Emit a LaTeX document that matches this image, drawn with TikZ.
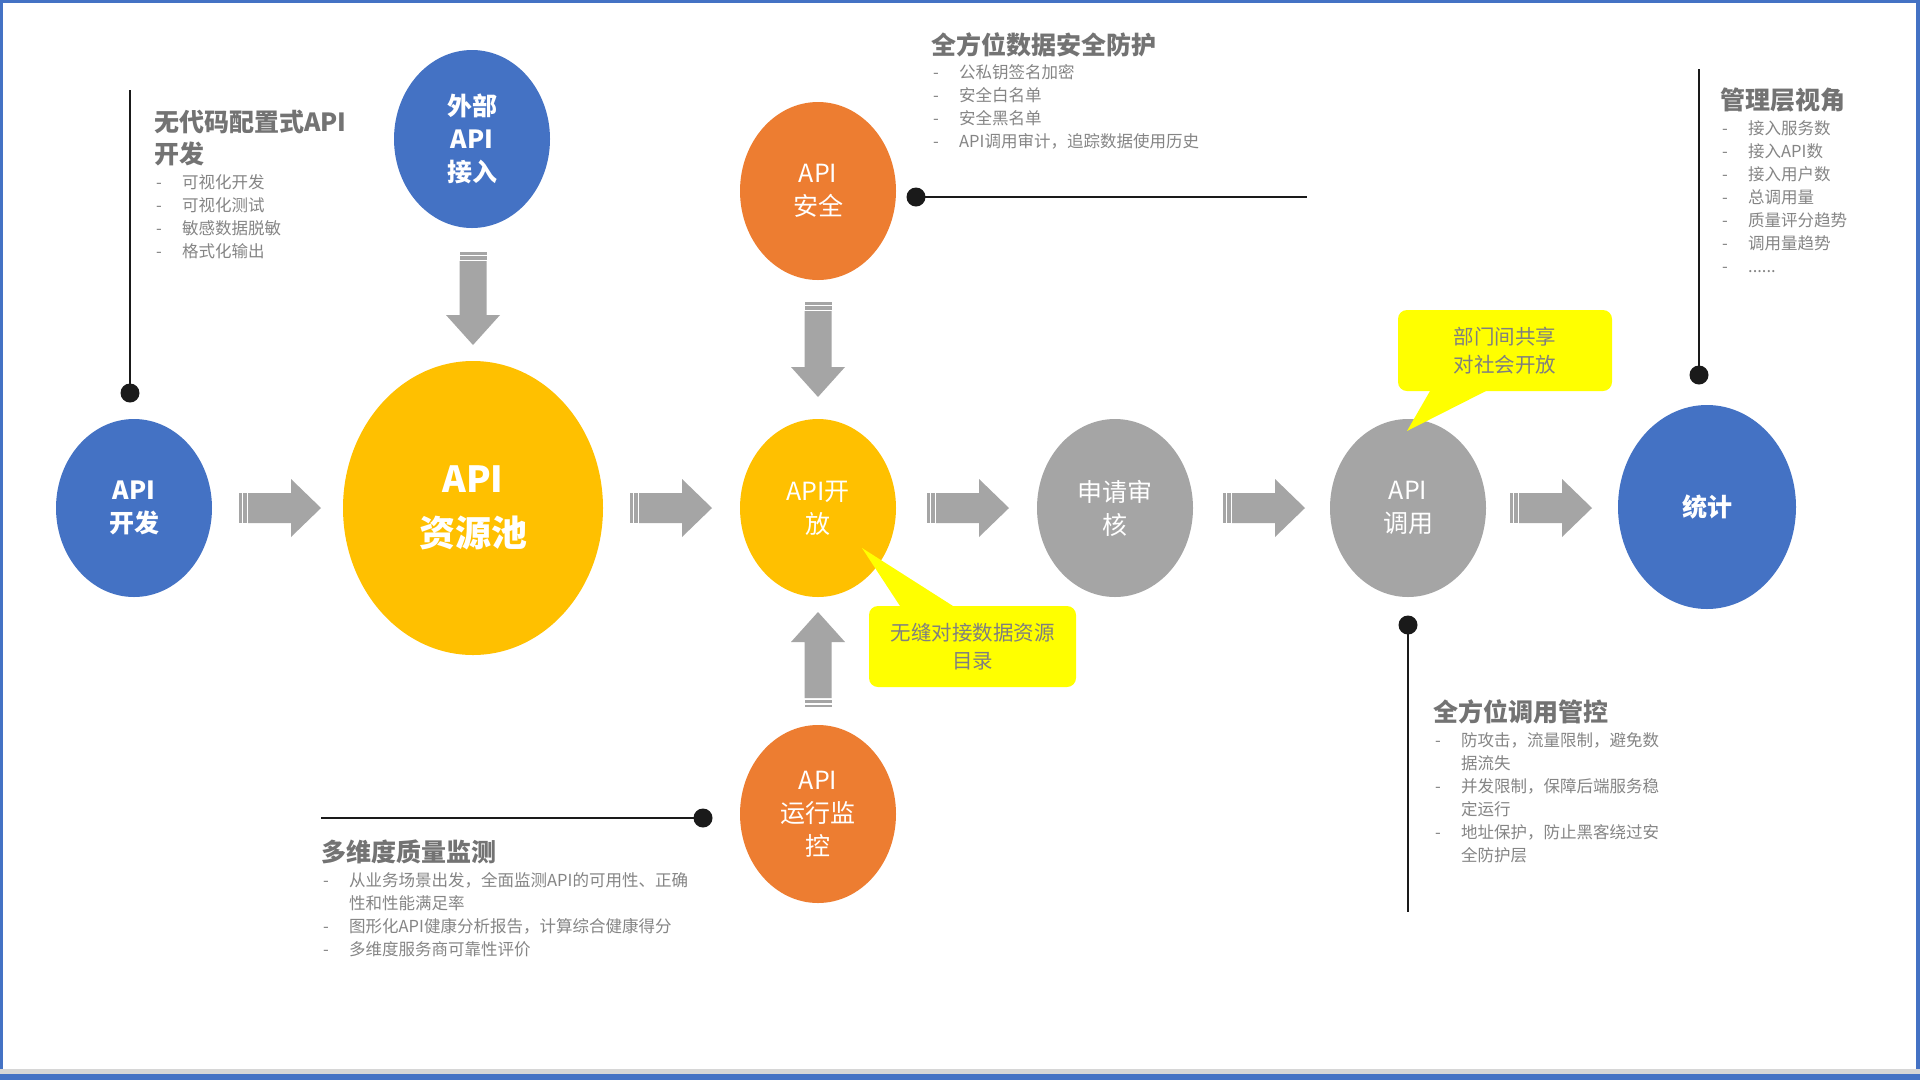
\documentclass[tikz,border=0pt]{standalone}
\usepackage{fontspec}
\setmainfont{Noto Sans CJK SC}
\usetikzlibrary{shapes.geometric}
\definecolor{cblue}{HTML}{4472C4}
\definecolor{cgold}{HTML}{FFC000}
\definecolor{corange}{HTML}{ED7D31}
\definecolor{cgray}{HTML}{A5A5A5}
\definecolor{arrowgray}{HTML}{A5A5A5}
\definecolor{cyellow}{HTML}{FFFF00}
\definecolor{titlegray}{HTML}{737373}
\definecolor{itemgray}{HTML}{858585}
\definecolor{calltext}{HTML}{7F7F7F}
\definecolor{pinblack}{HTML}{1A1A1A}
\definecolor{stripgray}{HTML}{D6D6D6}
\newcommand{\bitem}[1]{\makebox[28pt][l]{\hspace{2pt}-}#1}
\newcommand{\bcont}[1]{\hspace*{28pt}#1}
\tikzset{
  ell/.style={ellipse, inner sep=1pt, minimum width=156pt, minimum height=178pt,
    text=white, align=center, font=\fontsize{25}{33}\selectfont},
  ellb/.style={ell, font=\fontsize{25}{33}\selectfont\bfseries},
  ttl/.style={anchor=base west, inner sep=0pt, text=titlegray, align=left,
    font=\fontsize{25}{32}\selectfont\bfseries},
  lst/.style={anchor=base west, inner sep=0pt, text=itemgray, align=left,
    font=\fontsize{16.5}{23}\selectfont},
  callout/.style={fill=cyellow, rounded corners=9pt, inner sep=0pt, text=calltext,
    align=center, font=\fontsize{20.5}{28}\selectfont},
  pinline/.style={draw=pinblack, line width=1.4pt},
  pindot/.style={fill=pinblack},
  pics/blockarrow/.style n args={3}{code={
    \fill[arrowgray] (0,-#2) rectangle (2.5,#2);
    \fill[arrowgray] (4,-#2) rectangle (7.5,#2);
    \fill[arrowgray] (9,-#2) -- (#1-30,-#2) -- (#1-30,-#3) -- (#1,0)
       -- (#1-30,#3) -- (#1-30,#2) -- (9,#2) -- cycle;
  }}
}
\begin{document}
\begin{tikzpicture}[x=1pt,y=-1pt]
\useasboundingbox (0,0) rectangle (1920,1080);
\fill[white] (0,0) rectangle (1920,1080);

% pin lines
\coordinate (p1a) at (130,90);   \coordinate (p1b) at (130,393);
\coordinate (p2a) at (916,197);  \coordinate (p2b) at (1307,197);
\coordinate (p3a) at (1699,69);  \coordinate (p3b) at (1699,375);
\coordinate (p4a) at (1408,625); \coordinate (p4b) at (1408,912);
\coordinate (p5a) at (321,818);  \coordinate (p5b) at (703,818);
\draw[pinline] (p1a) -- (p1b);
\draw[pinline] (p2a) -- (p2b);
\draw[pinline] (p3a) -- (p3b);
\draw[pinline] (p4a) -- (p4b);
\draw[pinline] (p5a) -- (p5b);
\fill[pindot] (p1b) circle[radius=9.5pt];
\fill[pindot] (p2a) circle[radius=9.5pt];
\fill[pindot] (p3b) circle[radius=9.5pt];
\fill[pindot] (p4a) circle[radius=9.5pt];
\fill[pindot] (p5b) circle[radius=9.5pt];

% circles
\node[ellb, fill=cblue] (dev) at (134,508) {API\\开发};
\node[ell, fill=cgold, minimum width=260pt, minimum height=294pt,
      font=\fontsize{36}{54}\selectfont\bfseries] (pool) at (473,508) {API\\资源池};
\node[ellb, fill=cblue] (ext) at (472,139) {外部\\API\\接入};
\node[ell, fill=corange] (sec) at (818,191) {API\\安全};
\node[ell, fill=cgold] (open) at (818,508) {API开\\放};
\node[ell, fill=corange] (mon) at (818,814) {API\\运行监\\控};
\node[ell, fill=cgray] (rev) at (1115,508) {申请审\\核};
\node[ell, fill=cgray] (call) at (1408,508) {API\\调用};
\node[ellb, fill=cblue, minimum width=178pt, minimum height=204pt] (stat) at (1707,507) {统计};

% block arrows
\coordinate (h1) at (239,508);
\coordinate (h2) at (630,508);
\coordinate (h3) at (927,508);
\coordinate (h4) at (1223,508);
\coordinate (h5) at (1510,508);
\coordinate (v1) at (473,252);
\coordinate (v2) at (818,302);
\coordinate (v3) at (818,707);
\pic at (h1) {blockarrow={82}{15}{29}};
\pic at (h2) {blockarrow={82}{15}{29}};
\pic at (h3) {blockarrow={82}{15}{29}};
\pic at (h4) {blockarrow={82}{15}{29}};
\pic at (h5) {blockarrow={82}{15}{29}};
\pic[rotate=-90] at (v1) {blockarrow={93}{13.5}{27}};
\pic[rotate=-90] at (v2) {blockarrow={95}{13.5}{27}};
\pic[rotate=90] at (v3) {blockarrow={95}{13.5}{27}};

% callouts
\node[callout, minimum width=207pt, minimum height=81pt] (c1) at (972.5,646.5) {无缝对接数据资源\\目录};
\fill[cyellow] (900,606) -- (862,548) -- (953,606) -- (953,614) -- (900,614) -- cycle;
\node[callout, minimum width=214pt, minimum height=81pt] (c2) at (1505,350.5) {部门间共享\\对社会开放};
\fill[cyellow] (1430,391) -- (1407,431) -- (1486,391) -- (1486,383) -- (1430,383) -- cycle;

% text blocks (base anchor = baseline of the last line)
\node[ttl] (tA) at (154,163) {无代码配置式API\\开发};
\node[lst] (lA) at (154,257) {\bitem{可视化开发}\\\bitem{可视化测试}\\\bitem{敏感数据脱敏}\\\bitem{格式化输出}};

\node[ttl] (tB) at (931,54) {全方位数据安全防护};
\node[lst] (lB) at (931,147) {\bitem{公私钥签名加密}\\\bitem{安全白名单}\\\bitem{安全黑名单}\\\bitem{API调用审计，追踪数据使用历史}};

\node[ttl] (tC) at (1720,109) {管理层视角};
\node[lst] (lC) at (1720,272) {\bitem{接入服务数}\\\bitem{接入API数}\\\bitem{接入用户数}\\\bitem{总调用量}\\\bitem{质量评分趋势}\\\bitem{调用量趋势}\\\bitem{......}};

\node[ttl] (tD) at (1433,721) {全方位调用管控};
\node[lst] (lD) at (1433,861) {\bitem{防攻击，流量限制，避免数}\\\bcont{据流失}\\\bitem{并发限制，保障后端服务稳}\\\bcont{定运行}\\\bitem{地址保护，防止黑客绕过安}\\\bcont{全防护层}};

\node[ttl] (tE) at (321,861) {多维度质量监测};
\node[lst] (lE) at (321,955) {\bitem{从业务场景出发，全面监测API的可用性、正确}\\\bcont{性和性能满足率}\\\bitem{图形化API健康分析报告，计算综合健康得分}\\\bitem{多维度服务商可靠性评价}};

% frame
\fill[cblue] (0,0) rectangle (1920,3.3);
\fill[cblue] (0,0) rectangle (3.3,1080);
\fill[cblue] (1915.5,0) rectangle (1920,1080);
\fill[stripgray] (0,1068.5) rectangle (1920,1073.8);
\fill[cblue] (0,1073.8) rectangle (1920,1080);
\end{tikzpicture}
\end{document}
